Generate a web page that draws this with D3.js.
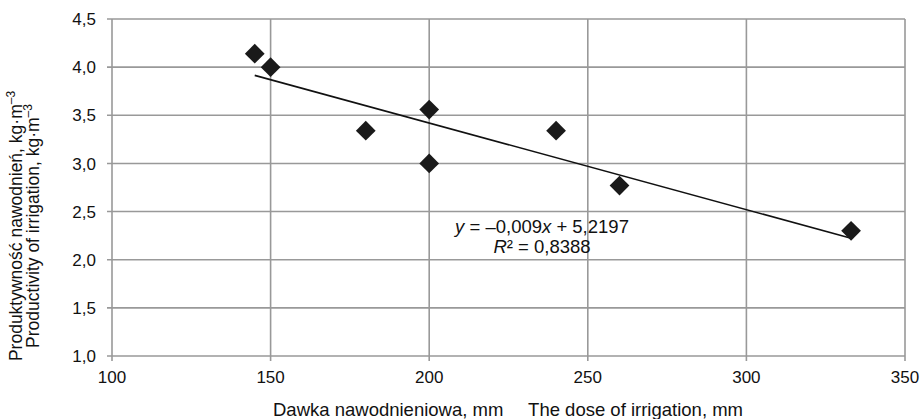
<!DOCTYPE html>
<html><head><meta charset="utf-8">
<script src="https://cdn.jsdelivr.net/npm/d3@7"></script>
<style>body{margin:0;background:#fff}svg{display:block;font-family:"Liberation Sans",Arial,sans-serif}</style>
</head><body><svg id="c" width="922" height="419"></svg>
<script>
const doseX = [145, 150, 180, 200, 200, 240, 260, 333];
const productivityY = [4.14, 4.0, 3.34, 3.56, 3.0, 3.34, 2.77, 2.3];
const xTicks = [100, 150, 200, 250, 300, 350];
const yTicks = [1.0, 1.5, 2.0, 2.5, 3.0, 3.5, 4.0, 4.5];
const trendSlope = -0.009, trendIntercept = 5.2197;
const trendRange = [145, 333];

const svg = d3.select("#c");
const L = 112, R = 905, T = 19, B = 356;
const FS = 17, FT = 18.5;
const x = d3.scaleLinear().domain([100, 350]).range([L, R]);
const y = d3.scaleLinear().domain([1.0, 4.5]).range([B, T]);
const fmt = d => d3.format(".1f")(d).replace(".", ",");

// grid
const g = svg.append("g");
g.selectAll(".gx").data(xTicks).join("line")
  .attr("x1", d => x(d)).attr("x2", d => x(d)).attr("y1", T).attr("y2", B + 5)
  .attr("stroke", "#999").attr("stroke-width", 1.6);
g.selectAll(".gy").data(yTicks).join("line")
  .attr("x1", L - 5).attr("x2", R).attr("y1", d => y(d)).attr("y2", d => y(d))
  .attr("stroke", "#999").attr("stroke-width", 1.6);

// tick labels
svg.append("g").selectAll("text").data(yTicks).join("text")
  .attr("x", 96).attr("y", d => y(d)).attr("dy", "0.36em")
  .attr("text-anchor", "end").attr("font-size", FS).attr("fill", "#111").text(fmt);
svg.append("g").selectAll("text").data(xTicks).join("text")
  .attr("x", d => x(d)).attr("y", 383)
  .attr("text-anchor", "middle").attr("font-size", FS).attr("fill", "#111").text(d => d);

// trendline
svg.append("line")
  .attr("x1", x(trendRange[0])).attr("y1", y(trendSlope * trendRange[0] + trendIntercept))
  .attr("x2", x(trendRange[1])).attr("y2", y(trendSlope * trendRange[1] + trendIntercept))
  .attr("stroke", "#111").attr("stroke-width", 1.6);

// points
const sym = d3.symbol().type(d3.symbolSquare).size(195);
svg.append("g").selectAll("path").data(doseX.map((d, i) => [d, productivityY[i]])).join("path")
  .attr("d", sym)
  .attr("transform", d => `translate(${x(d[0])},${y(d[1])}) rotate(45)`)
  .attr("fill", "#1a1a1a");

// equation
const eq = svg.append("text").attr("x", 542).attr("y", 233).attr("text-anchor", "middle")
  .attr("font-size", FT).attr("fill", "#111");
eq.append("tspan").attr("font-style", "italic").text("y");
eq.append("tspan").text(" = –0,009");
eq.append("tspan").attr("font-style", "italic").text("x");
eq.append("tspan").text(" + 5,2197");
const r2 = svg.append("text").attr("x", 542).attr("y", 253).attr("text-anchor", "middle")
  .attr("font-size", FT).attr("fill", "#111");
r2.append("tspan").attr("font-style", "italic").text("R");
r2.append("tspan").text("² = 0,8388");

// axis titles
svg.append("text").attr("x", 273).attr("y", 416).attr("text-anchor", "start")
  .attr("font-size", FT).attr("fill", "#111").text("Dawka nawodnieniowa, mm");
svg.append("text").attr("x", 743).attr("y", 416).attr("text-anchor", "end")
  .attr("font-size", FT).attr("fill", "#111").text("The dose of irrigation, mm");

const yt = svg.append("g").attr("transform", "translate(0,226) rotate(-90)");
const l1 = yt.append("text").attr("x", 0).attr("y", 22).attr("text-anchor", "middle")
  .attr("font-size", 17.5).attr("fill", "#111");
l1.append("tspan").text("Produktywność nawodnień, kg·m");
l1.append("tspan").attr("dy", -7).attr("font-size", 12).text("–3");
const l2 = yt.append("text").attr("x", 0).attr("y", 39).attr("text-anchor", "middle")
  .attr("font-size", 17.5).attr("fill", "#111");
l2.append("tspan").text("Productivity of irrigation, kg·m");
l2.append("tspan").attr("dy", -7).attr("font-size", 12).text("–3");
</script></body></html>
